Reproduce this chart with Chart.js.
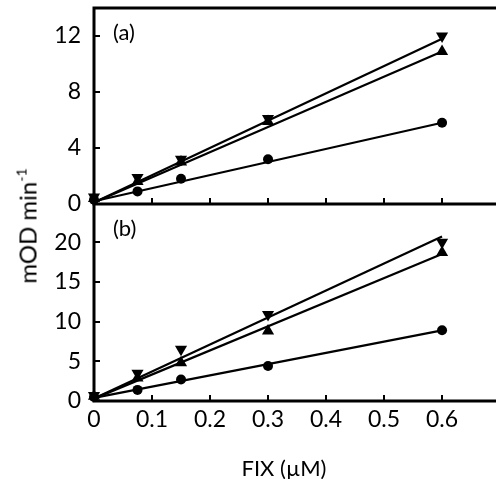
<!DOCTYPE html>
<html>
<head>
<meta charset="utf-8">
<script src="https://cdn.jsdelivr.net/npm/chart.js@4"></script>
<style>
  body { margin:0; background:#fff; font-family: Lato, "DejaVu Sans", sans-serif; }
  #wrap { position:relative; width:496px; height:479px; overflow:hidden; }
  canvas { position:absolute; left:0; }
  .lbl { position:absolute; font-size:22px; color:#000; white-space:nowrap; line-height:1; }
  #ytitle { left:27px; top:226px; font-size:24px; transform:translate(-50%,-50%) rotate(-90deg); }
  #xtitle { left:284px; top:468px; transform:translate(-50%,-50%); }
  sup { font-size:14px; vertical-align:10px; }
</style>
</head>
<body>
<div id="wrap">
  <canvas id="top"></canvas>
  <canvas id="bot"></canvas>
  <div class="lbl" id="ytitle">mOD min<sup>-1</sup></div>
  <div class="lbl" id="xtitle">FIX (µM)</div>
  <div class="lbl" style="left:113px;top:21px">(a)</div>
  <div class="lbl" style="left:113px;top:217px">(b)</div>
</div>
<script>
// x positions (µM FIX)
const xVals = [0, 0.075, 0.15, 0.3, 0.6];
const xFit = [0, 0.6];
const xTicks = [0, 0.1, 0.2, 0.3, 0.4, 0.5, 0.6];

// panel (a)
const aTicks = [0, 4, 8, 12];
const aCircle = [0.3, 0.9, 1.8, 3.2, 5.8];
const aUp     = [0.4, 1.6, 3.0, 5.9, 10.9];
const aDown   = [0.5, 1.9, 3.2, 6.1, 12.0];
const aCircleFit = [0.2, 5.8];
const aUpFit     = [0.1, 10.9];
const aDownFit   = [0.1, 11.8];

// panel (b)
const bTicks = [0, 5, 10, 15, 20];
const bCircle = [0.5, 1.4, 2.7, 4.4, 8.9];
const bUp     = [0.6, 2.9, 4.8, 8.8, 18.7];
const bDown   = [0.7, 3.5, 6.5, 10.9, 20.0];
const bCircleFit = [0.4, 8.9];
const bUpFit     = [0.3, 18.5];
const bDownFit   = [0.3, 20.7];

const FONT = { family: 'Lato, "DejaVu Sans", sans-serif', size: 23 };
const pts = (xs, ys) => xs.map((x, i) => ({ x, y: ys[i] }));
const noPad = sc => { sc.paddingTop = 0; sc.paddingBottom = 0; sc.paddingLeft = 0; sc.paddingRight = 0; };

// axis lines + inward tick marks
function frame(withTop) {
  return {
    id: 'frame',
    afterDraw(chart) {
      const { ctx, chartArea: a, scales: { x, y } } = chart;
      ctx.save();
      ctx.strokeStyle = '#000';
      ctx.lineWidth = 2;
      x.ticks.forEach(t => {
        const px = Math.round(x.getPixelForValue(t.value));
        ctx.beginPath(); ctx.moveTo(px, a.bottom); ctx.lineTo(px, a.bottom - 6); ctx.stroke();
      });
      y.ticks.forEach(t => {
        const py = Math.round(y.getPixelForValue(t.value));
        ctx.beginPath(); ctx.moveTo(a.left, py); ctx.lineTo(a.left + 6, py); ctx.stroke();
      });
      ctx.lineWidth = 3;
      ctx.beginPath();
      if (withTop) { ctx.moveTo(a.right, a.top); ctx.lineTo(a.left, a.top); }
      else ctx.moveTo(a.left, a.top);
      ctx.lineTo(a.left, a.bottom); ctx.lineTo(a.right, a.bottom);
      ctx.stroke();
      ctx.restore();
    }
  };
}

function makePanel(id, top, height, padTop, xH, yMax, yTicks, s, withTop, xLabels) {
  const cv = document.getElementById(id);
  cv.style.top = top + 'px';
  cv.width = 496; cv.height = height;
  const mark = (data, style, rot, r) => ({
    type: 'scatter', data: pts(xVals, data), showLine: false, clip: false,
    pointStyle: style, rotation: rot, pointRadius: r, pointHoverRadius: r,
    backgroundColor: '#000', borderColor: '#000', borderWidth: 0
  });
  const fit = data => ({
    type: 'line', data: pts(xFit, data), borderColor: '#000', borderWidth: 2.2,
    pointRadius: 0, fill: false, clip: false
  });
  new Chart(cv, {
    data: { datasets: [
      fit(s.cFit), fit(s.uFit), fit(s.dFit),
      mark(s.c, 'circle', 0, 5), mark(s.u, 'triangle', 0, 7), mark(s.d, 'triangle', 180, 7)
    ] },
    options: {
      responsive: false, animation: false,
      layout: { autoPadding: false, padding: { top: padTop, right: 0, left: 0, bottom: 0 } },
      plugins: { legend: { display: false }, tooltip: { enabled: false } },
      scales: {
        x: {
          type: 'linear', min: 0, max: 0.693,
          afterBuildTicks: sc => { sc.ticks = xTicks.map(v => ({ value: v })); },
          afterFit: sc => { sc.height = xH; noPad(sc); },
          grid: { display: false, drawTicks: false }, border: { display: false },
          ticks: { display: xLabels, color: '#000', font: FONT, padding: 5, maxRotation: 0,
                   callback: v => String(v) }
        },
        y: {
          min: 0, max: yMax,
          afterBuildTicks: sc => { sc.ticks = yTicks.map(v => ({ value: v })); },
          afterFit: sc => { sc.width = 94; noPad(sc); },
          grid: { display: false, drawTicks: false }, border: { display: false },
          ticks: { color: '#000', font: FONT, padding: 13 }
        }
      }
    },
    plugins: [frame(withTop)]
  });
}

makePanel('top', 0, 215, 8, 11, 14, aTicks,
  { c: aCircle, u: aUp, d: aDown, cFit: aCircleFit, uFit: aUpFit, dFit: aDownFit }, true, false);
makePanel('bot', 200, 279, 4, 78, 24.8, bTicks,
  { c: bCircle, u: bUp, d: bDown, cFit: bCircleFit, uFit: bUpFit, dFit: bDownFit }, false, true);
</script>
</body>
</html>
